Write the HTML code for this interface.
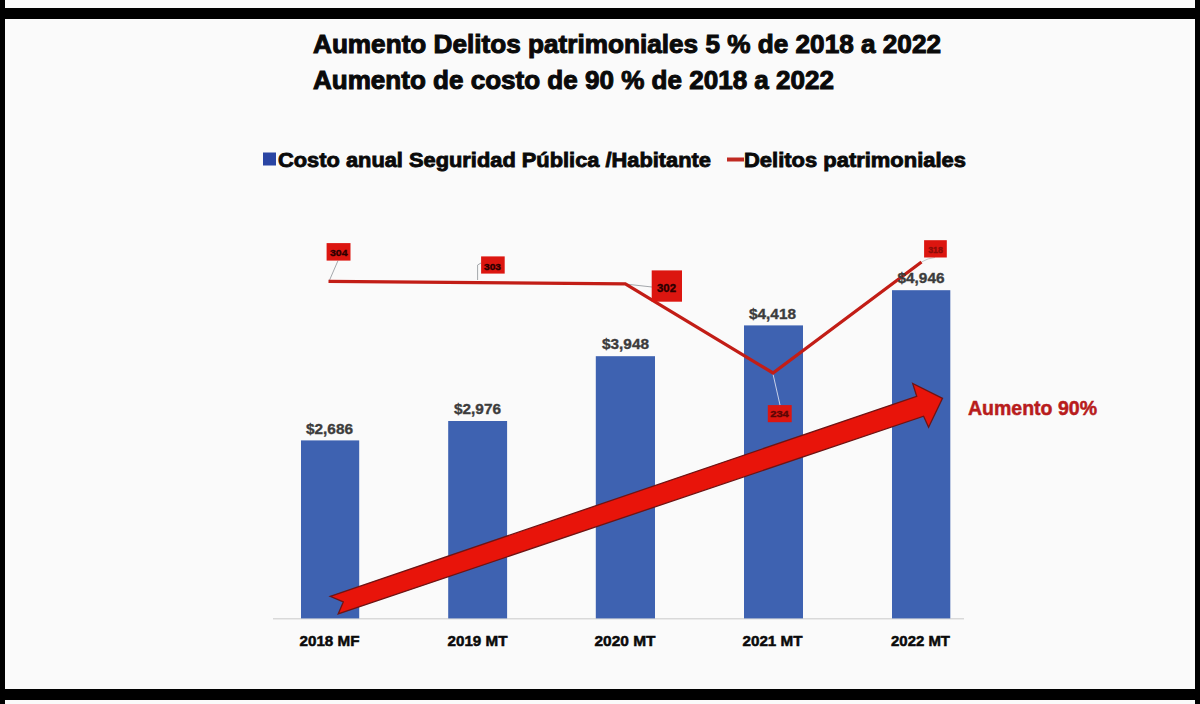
<!DOCTYPE html>
<html><head><meta charset="utf-8">
<style>
html,body{margin:0;padding:0;background:#fafafa;width:1200px;height:704px;overflow:hidden}
svg{display:block}
text{font-family:"Liberation Sans",sans-serif;font-weight:bold}
</style></head>
<body>
<svg width="1200" height="704" viewBox="0 0 1200 704">
<rect x="0" y="0" width="1200" height="704" fill="#fafafa"/>
<!-- frame -->
<rect x="0" y="0" width="5" height="704" fill="#000"/>
<rect x="1195" y="0" width="5" height="704" fill="#000"/>
<rect x="0" y="8" width="1200" height="11" fill="#000"/>
<rect x="0" y="689" width="1200" height="11" fill="#000"/>

<!-- title -->
<text x="313" y="52.6" font-size="26.6" fill="#0a0a0a" stroke="#0a0a0a" stroke-width="1.05" textLength="628" lengthAdjust="spacingAndGlyphs">Aumento Delitos patrimoniales 5 % de 2018 a 2022</text>
<text x="313" y="88.6" font-size="26.6" fill="#0a0a0a" stroke="#0a0a0a" stroke-width="1.05" textLength="521" lengthAdjust="spacingAndGlyphs">Aumento de costo de 90 % de 2018 a 2022</text>

<!-- legend -->
<rect x="263" y="152.5" width="13" height="13" fill="#2a45a3"/>
<text x="278" y="167.2" font-size="20.3" fill="#0a0a0a" stroke="#0a0a0a" stroke-width="0.85" textLength="433" lengthAdjust="spacingAndGlyphs">Costo anual Seguridad Pública /Habitante</text>
<rect x="727" y="157.5" width="17" height="4" fill="#c02a22"/>
<text x="744" y="167.2" font-size="20.3" fill="#0a0a0a" stroke="#0a0a0a" stroke-width="0.85" textLength="222" lengthAdjust="spacingAndGlyphs">Delitos patrimoniales</text>

<!-- axis -->
<rect x="273" y="618" width="691" height="1.5" fill="#d9d9d9"/>

<!-- bars -->
<g fill="#3e62b1">
<rect x="301" y="440.4" width="58.2" height="178"/>
<rect x="448.2" y="421" width="58.9" height="197.4"/>
<rect x="595.8" y="356.2" width="59.2" height="262.2"/>
<rect x="744" y="325.4" width="59" height="293"/>
<rect x="892" y="290.2" width="58.3" height="328.2"/>
</g>

<!-- x labels -->
<g font-size="14.5" fill="#0a0a0a" stroke="#0a0a0a" stroke-width="0.5">
<text x="299.5" y="645.7" textLength="60" lengthAdjust="spacingAndGlyphs">2018 MF</text>
<text x="447.5" y="645.7" textLength="60" lengthAdjust="spacingAndGlyphs">2019 MT</text>
<text x="594.5" y="645.7" textLength="61" lengthAdjust="spacingAndGlyphs">2020 MT</text>
<text x="742.5" y="645.7" textLength="60" lengthAdjust="spacingAndGlyphs">2021 MT</text>
<text x="891" y="645.7" textLength="59" lengthAdjust="spacingAndGlyphs">2022 MT</text>
</g>

<!-- leader lines -->
<g stroke="#a4a8ac" stroke-width="1" fill="none">
<path d="M338 260.6 L329.6 280"/>
<path d="M477.6 280 L477.6 265 L481 263"/>
<path d="M625.3 284 L652 287"/>
<path d="M773 374 L780 405" stroke="#c8d0e8"/>
<path d="M921.5 262 Q928 258 935 257.5" stroke="#c8c8c8"/>
</g>

<!-- red line -->
<polyline points="328.5,281.3 477.6,282.6 625.3,283.8 773,373 921.5,262" fill="none" stroke="#c21d16" stroke-width="3.3" stroke-linejoin="miter"/>

<!-- data labels -->
<g font-size="15" fill="#3c3c3c" stroke="#3c3c3c" stroke-width="0.35">
<text x="306" y="433.8" textLength="47" lengthAdjust="spacingAndGlyphs">$2,686</text>
<text x="454" y="413.8" textLength="47" lengthAdjust="spacingAndGlyphs">$2,976</text>
<text x="602" y="349.2" textLength="47" lengthAdjust="spacingAndGlyphs">$3,948</text>
<text x="749" y="318.5" textLength="47" lengthAdjust="spacingAndGlyphs">$4,418</text>
<text x="897.5" y="282.5" textLength="47" lengthAdjust="spacingAndGlyphs">$4,946</text>
</g>

<!-- value boxes -->
<g fill="#dc1610">
<rect x="326.6" y="243.1" width="23.9" height="17.5"/>
<rect x="481.1" y="256.4" width="23.6" height="17.2"/>
<rect x="651.7" y="270.4" width="30.3" height="31.3"/>
<rect x="767.8" y="405.1" width="23.9" height="17.1"/>
<rect x="924.1" y="240.2" width="22.7" height="17.3"/>
</g>
<g font-size="9.8" fill="#2a0000" stroke="#2a0000" stroke-width="0.35">
<text x="330" y="256" textLength="17.5" lengthAdjust="spacingAndGlyphs">304</text>
<text x="484" y="269.6" textLength="17" lengthAdjust="spacingAndGlyphs">303</text>
<text x="657" y="291.8" font-size="10.5" textLength="19" lengthAdjust="spacingAndGlyphs">302</text>
<text x="770.2" y="417.2" textLength="18.6" lengthAdjust="spacingAndGlyphs" fill="#5a0604" stroke="#5a0604">234</text>
<text x="928.2" y="253.4" textLength="14.7" lengthAdjust="spacingAndGlyphs" fill="#8a0c08" stroke="#8a0c08">318</text>
</g>

<!-- arrow -->
<polygon points="330.2,596.3 916.7,396.3 912.7,383.4 942.5,398.3 928.6,427.2 923.6,416.2 338.2,613.9 343.3,601.9" fill="#e8140a" stroke="#6e1414" stroke-width="1.3" stroke-linejoin="miter"/>

<!-- annotation -->
<text x="968" y="415" font-size="19.5" fill="#b81c1c" stroke="#b81c1c" stroke-width="0.5" textLength="129" lengthAdjust="spacingAndGlyphs">Aumento 90%</text>
</svg>
</body></html>
